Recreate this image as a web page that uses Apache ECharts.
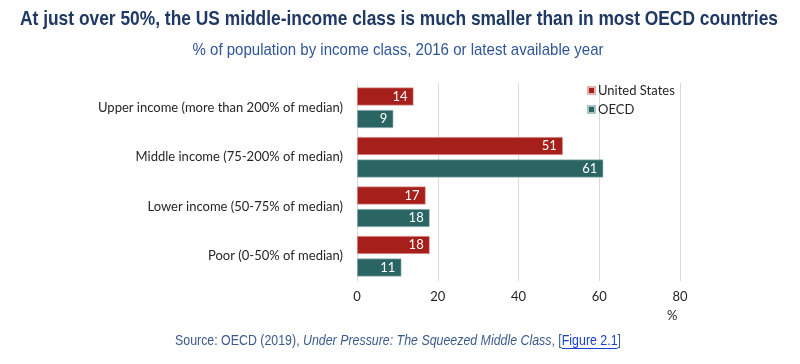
<!DOCTYPE html>
<html><head><meta charset="utf-8">
<script src="https://cdn.jsdelivr.net/npm/echarts@6/dist/echarts.min.js"></script>
<style>html,body{margin:0;padding:0;background:#fff}#c{width:800px;height:364px}</style>
</head><body><div id="c"></div>
<script>
var categories = ['Upper income (more than 200% of median)', 'Middle income (75-200% of median)', 'Lower income (50-75% of median)', 'Poor (0-50% of median)'];
var usValues = [14, 51, 17, 18];
var oecdValues = [9, 61, 18, 11];
var xTicks = [0, 20, 40, 60, 80];

var titleText = 'At just over 50%, the US middle-income class is much smaller than in most OECD countries';
var subText = '% of population by income class, 2016 or latest available year';
var srcA = 'Source: OECD (2019), ', srcB = 'Under Pressure: The Squeezed Middle Class', srcC = ', [', srcD = 'Figure 2.1', srcE = ']';

var cv = document.createElement('canvas').getContext('2d');
function mw(font, t){ cv.font = font; return cv.measureText(t).width; }
var FF = '"Liberation Sans", Arial, sans-serif';
var tFont = 'bold 21px ' + FF, sFont = '17px ' + FF, nFont = '15px ' + FF, iFont = 'italic 15px ' + FF;
var tScale = 758 / mw(tFont, titleText);
var sScale = 411 / mw(sFont, subText);
var wA = mw(nFont, srcA), wB = mw(iFont, srcB), wC = mw(nFont, srcC), wD = mw(nFont, srcD), wE = mw(nFont, srcE);
var srcW = wA + wB + wC + wD + wE;
var srcScale = 446 / srcW;
var srcX0 = 398 - srcW * srcScale / 2;
var ulX1 = srcX0 + (wA + wB + wC) * srcScale, ulX2 = ulX1 + wD * srcScale;

var chart = echarts.init(document.getElementById('c'));
var lbl = {show: true, position: 'insideRight', color: '#fff', fontSize: 13, fontFamily: 'Lato, sans-serif', distance: 6};
var LF = 'Lato, sans-serif';
var SRC_C = '#3b5a8c', LINK_C = '#1a3fd6';
chart.setOption({
  animation: false,
  legend: {
    orient: 'vertical', left: 582, top: 79, itemWidth: 7, itemHeight: 7, itemGap: 6,
    icon: 'rect',
    textStyle: {fontFamily: LF, fontSize: 13, color: '#262626', padding: [0,0,0,-2]},
    data: ['United States', 'OECD']
  },
  grid: {left: 357, right: 120, top: 83, bottom: 83, containLabel: false},
  xAxis: {
    type: 'value', min: xTicks[0], max: xTicks[xTicks.length-1], interval: 20,
    axisLine: {show: false}, axisTick: {show: false},
    splitLine: {show: true, lineStyle: {color: '#d9d9d9', width: 1}},
    axisLabel: {color: '#262626', fontSize: 13, fontFamily: LF, margin: 9}
  },
  yAxis: {
    type: 'category', inverse: true, data: categories,
    axisLine: {show: false}, axisTick: {show: false},
    axisLabel: {color: '#262626', fontSize: 13, fontFamily: LF, margin: 14}
  },
  series: [{
    name: 'United States', type: 'bar', data: usValues, barWidth: 18, barGap: '25%',
    itemStyle: {color: '#a61f1a', borderColor: '#e8b0ad', borderWidth: 0.6},
    label: lbl
  }, {
    name: 'OECD', type: 'bar', data: oecdValues, barWidth: 18,
    itemStyle: {color: '#2b6563', borderColor: '#a9c4c2', borderWidth: 0.6},
    label: lbl
  }],
  graphic: [{
    type: 'text', x: 399, y: 9, scaleX: tScale,
    style: {text: titleText, font: tFont, fill: '#1f3864', align: 'center', verticalAlign: 'top'}
  }, {
    type: 'text', x: 398, y: 42, scaleX: sScale,
    style: {text: subText, font: sFont, fill: '#2f5597', align: 'center', verticalAlign: 'top'}
  }, {
    type: 'text', x: 667, y: 309,
    style: {text: '%', fontSize: 13, fontFamily: LF, fill: '#262626'}
  }, {
    type: 'text', x: srcX0, y: 333, scaleX: srcScale,
    style: {
      text: '{n|' + srcA + '}{i|' + srcB + '}{n|' + srcC + '}{a|' + srcD + '}{n|' + srcE + '}',
      align: 'left', verticalAlign: 'top', fill: SRC_C,
      rich: {
        n: {fontSize: 15, fontFamily: FF, fill: SRC_C},
        i: {fontSize: 15, fontStyle: 'italic', fontFamily: FF, fill: SRC_C},
        a: {fontSize: 15, fontFamily: FF, fill: LINK_C}
      }
    }
  }, {
    type: 'line',
    shape: {x1: ulX1, y1: 348.5, x2: ulX2, y2: 348.5},
    style: {stroke: LINK_C, lineWidth: 1}
  }]
});
</script></body></html>
